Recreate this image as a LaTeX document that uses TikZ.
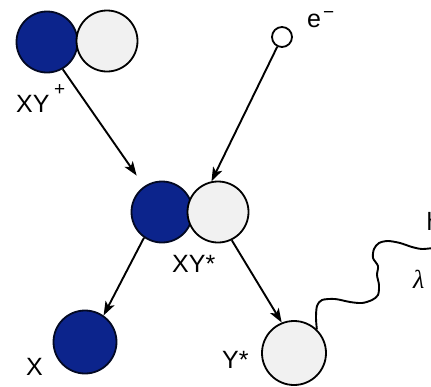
\documentclass[tikz,border=0pt]{standalone}
\usepackage{fontspec}
\setmainfont{Liberation Sans}
\newfontfamily\lamfont{Liberation Serif}
\usetikzlibrary{arrows.meta}
\definecolor{darkblue}{RGB}{12,36,140}
\definecolor{lightfill}{RGB}{241,241,241}
\begin{document}
\begin{tikzpicture}[x=1pt,y=-1pt,
  dark/.style={circle,draw=black!75!darkblue,fill=darkblue,line width=1.8pt,minimum size=61pt,inner sep=0pt},
  light/.style={circle,draw=black,fill=lightfill,line width=1.8pt,minimum size=61pt,inner sep=0pt},
  arr/.style={line width=1.9pt,-{Stealth[length=14pt,width=10pt,inset=3.5pt]}},
  lbl/.style={font=\fontsize{25}{30}\selectfont,inner sep=0pt,anchor=base west},
  sup/.style={font=\fontsize{19}{22}\selectfont,inner sep=0pt,anchor=base west},
  wave/.style={line width=1.9pt,line join=round}]
\useasboundingbox (0,0) rectangle (431,386);
% molecules and atoms
\node[dark] (xyd) at (47,42) {};
\node[light] (xyw) at (107,41) {};
\node[dark] (md) at (162,212) {};
\node[light] (mw) at (218,212) {};
\node[dark,minimum size=63pt] (x) at (85,342) {};
\node[light,minimum size=64pt] (ys) at (294,353) {};
\node[circle,draw,line width=1.8pt,minimum size=20pt,inner sep=0pt,fill=white] (e) at (282,37) {};
% labels
\node[lbl] (lxy) at (16,112) {XY};
\node[sup] (lplus) at (54,95) {+};
\node[lbl] (lmid) at (172,272) {XY*};
\node[lbl] (lx) at (26,375) {X};
\node[lbl] (ly) at (222,368) {Y*};
\node[lbl] (le) at (307,27) {e};
\node[sup] (lminus) at (323,18) {−};
\node[lbl,font=\fontsize{26}{30}\selectfont\lamfont\itshape] (lam) at (413,288) {λ};
\node[lbl] (lh) at (426.5,230) {h};
% connectors
\draw[arr,shorten >=13pt] (xyd.-60) -- (md);
\draw[arr] (e.-116) -- (mw.102);
\draw[arr] (md.-125) -- (x.55);
\draw[arr] (mw.-64) -- (ys.112);
% emitted photon
\draw[wave] plot[smooth,tension=0.5] coordinates {(ys.46) (316,318) (317,306) (322,300) (335,299) (350,302) (362,303) (372,300) (378,295) (379,285) (377,275) (378,266) (373,258) (374,249) (379,243) (388,241) (400,243) (412,247) (422,249) (433,248)};
\end{tikzpicture}
\end{document}
